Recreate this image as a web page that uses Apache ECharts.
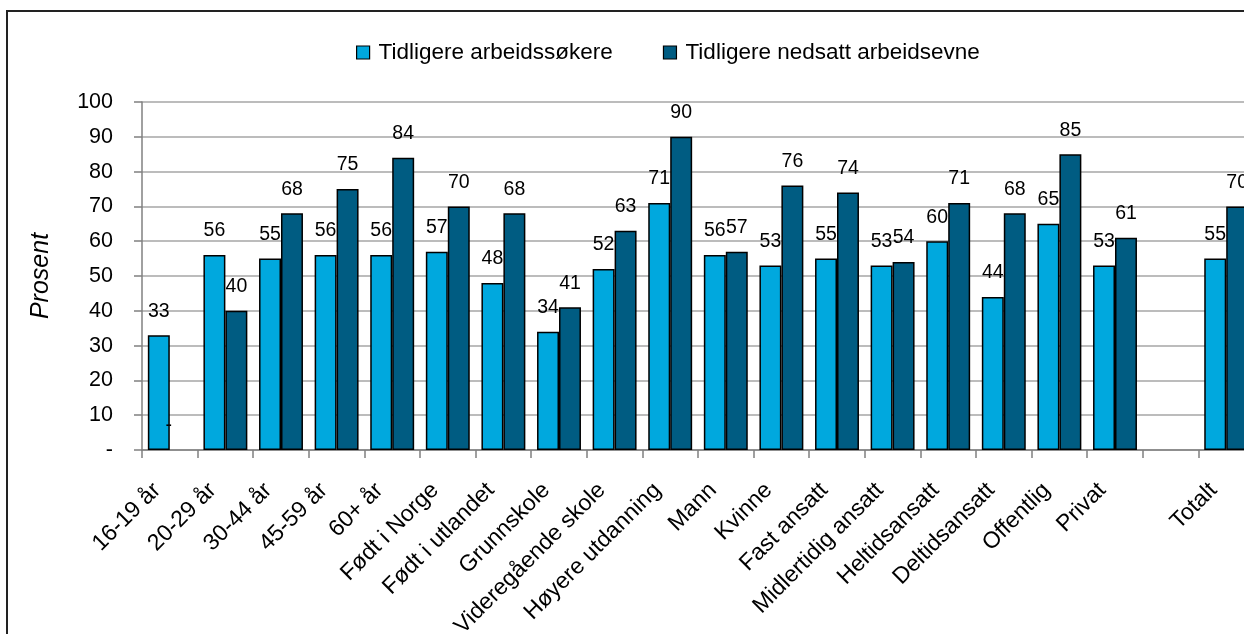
<!DOCTYPE html>
<html>
<head>
<meta charset="utf-8">
<script src="https://cdn.jsdelivr.net/npm/echarts@6/dist/echarts.min.js"></script>
<style>
html,body{margin:0;padding:0;background:#fff;overflow:hidden;width:1244px;height:634px;}
#chart{position:absolute;left:0;top:0;width:1300px;height:634px;}
</style>
</head>
<body>
<div id="chart"></div>
<script>
const categories = ['16-19 år','20-29 år','30-44 år','45-59 år','60+ år','Født i Norge','Født i utlandet','Grunnskole','Videregående skole','Høyere utdanning','Mann','Kvinne','Fast ansatt','Midlertidig ansatt','Heltidsansatt','Deltidsansatt','Offentlig','Privat','','Totalt'];
const seriesNames = ['Tidligere arbeidssøkere','Tidligere nedsatt arbeidsevne'];
const arbeidssokere = [33,56,55,56,56,57,48,34,52,71,56,53,55,53,60,44,65,53,null,55];
const nedsattArbeidsevne = [0,40,68,75,84,70,68,41,63,90,57,76,74,54,71,68,85,61,null,70];
const yTicks = [0,10,20,30,40,50,60,70,80,90,100];

const FONT = 'Arial, "Liberation Sans", sans-serif';
const chart = echarts.init(document.getElementById('chart'));

function labelFmt(p){ return p.value === 0 ? '-' : String(p.value); }
function toData(arr){
  return arr.map(v => v === 0 ? {value: v, itemStyle: {borderWidth: 0}, label: {offset: [-12, 0]}} : v);
}

const barLabel = {show: true, position: 'top', distance: 14, fontSize: 19.5, color: '#000', fontFamily: FONT, formatter: labelFmt};

chart.setOption({
  animation: false,
  textStyle: {fontFamily: FONT, color: '#000'},
  graphic: [{
    type: 'rect', silent: true,
    shape: {x: 7, y: 11, width: 2000, height: 2000},
    style: {fill: 'none', stroke: '#222', lineWidth: 2}
  }],
  legend: {
    left: 351, top: 36,
    itemWidth: 13, itemHeight: 13, itemGap: 50,
    icon: 'rect',
    itemStyle: {borderColor: '#000', borderWidth: 1.2},
    textStyle: {fontFamily: FONT, fontSize: 22.5, color: '#000', padding: [0,0,0,4]},
    data: seriesNames
  },
  grid: {left: 142, top: 102, width: 1112, height: 348, containLabel: false, outerBoundsMode: 'none'},
  xAxis: {
    type: 'category',
    data: categories,
    axisLine: {lineStyle: {color: '#808080', width: 1.5}},
    axisTick: {show: true, length: 8, lineStyle: {color: '#808080', width: 1.5}},
    axisLabel: {rotate: 45, interval: 0, margin: 24, padding: [0, 18, 0, 0], fontSize: 23, color: '#000', fontFamily: FONT},
    splitLine: {show: false}
  },
  yAxis: {
    type: 'value',
    min: 0, max: 100, interval: 10,
    name: 'Prosent',
    nameLocation: 'middle',
    nameGap: 88,
    nameRotate: 90,
    nameTextStyle: {fontStyle: 'italic', fontSize: 25, color: '#000', fontFamily: FONT},
    axisLine: {show: true, lineStyle: {color: '#808080', width: 1.5}},
    axisTick: {show: true, length: 8, lineStyle: {color: '#808080', width: 1.5}},
    axisLabel: {
      margin: 29, fontSize: 21.5, color: '#000', fontFamily: FONT,
      formatter: v => yTicks.includes(v) ? (v === 0 ? '-' : String(v)) : ''
    },
    splitLine: {show: true, lineStyle: {color: '#a6a6a6', width: 1.5}}
  },
  series: [
    {
      name: seriesNames[0], type: 'bar',
      data: toData(arbeidssokere),
      barGap: '0%', barCategoryGap: '21%',
      itemStyle: {color: '#00A8DE', borderColor: '#000', borderWidth: 1.5},
      label: barLabel
    },
    {
      name: seriesNames[1], type: 'bar',
      data: toData(nedsattArbeidsevne),
      barGap: '0%', barCategoryGap: '21%',
      itemStyle: {color: '#005C82', borderColor: '#000', borderWidth: 1.5},
      label: barLabel
    }
  ]
});
</script>
</body>
</html>
